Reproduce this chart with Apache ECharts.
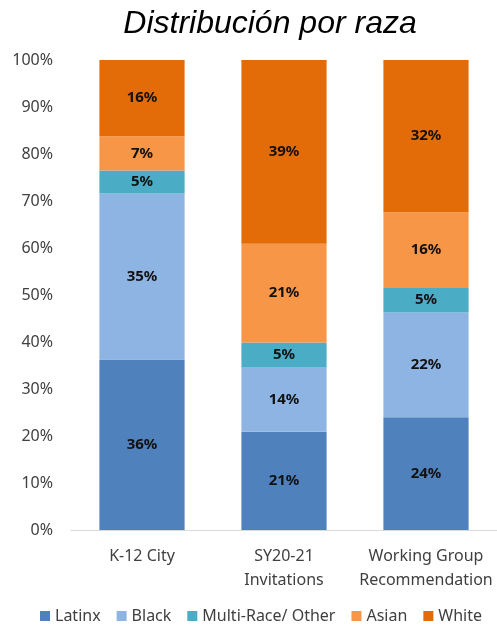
<!DOCTYPE html>
<html>
<head>
<meta charset="utf-8">
<script src="https://cdn.jsdelivr.net/npm/echarts@6/dist/echarts.min.js"></script>
<style>
  html, body { margin: 0; padding: 0; background: #fff; }
  #chart { width: 497px; height: 626px; }
</style>
</head>
<body>
<div id="chart"></div>
<script>
// categorias y valores (porcentaje de cada barra)
var categories = ['K-12 City', 'SY20-21\nInvitations', 'Working Group\nRecommendation']
var latinx = [36.3, 20.9, 24.0]
var black = [35.3, 13.8, 22.3]
var multi = [4.9, 5.2, 5.2]
var asian = [7.3, 21.0, 16.1]
var white = [16.2, 39.1, 32.4]
var yTicks = [0, 10, 20, 30, 40, 50, 60, 70, 80, 90, 100]

var font = 'Noto Sans'

function serie(name, data, color) {
    return {
        name: name,
        type: 'bar',
        stack: 'total',
        barWidth: '60%',
        data: data,
        itemStyle: {color: color},
        label: {
            show: true,
            position: 'inside',
            color: '#111',
            fontWeight: 'bold',
            fontSize: 15,
            fontFamily: font,
            formatter: function (p) {
                return Math.round(p.value) + '%'
            }
        }
    }
}

var myChart = echarts.init(document.getElementById('chart'))
myChart.setOption({
    animation: false,
    title: {
        text: 'Distribución por raza',
        left: 265,
        textAlign: 'center',
        top: 3,
        textStyle: {
            fontFamily: 'Liberation Sans',
            fontStyle: 'italic',
            fontWeight: 'normal',
            fontSize: 32,
            color: '#000'
        }
    },
    legend: {
        top: 608,
        left: 40,
        padding: 0,
        itemWidth: 10,
        itemHeight: 10,
        itemGap: 16,
        icon: 'rect',
        textStyle: {fontFamily: font, fontSize: 16, color: '#404040'}
    },
    grid: {left: 71, right: 0, top: 60, bottom: 96},
    xAxis: {
        type: 'category',
        data: categories,
        axisTick: {show: false},
        axisLine: {lineStyle: {color: '#d9d9d9', width: 1}},
        axisLabel: {
            interval: 0,
            margin: 14,
            lineHeight: 24,
            fontFamily: font,
            fontSize: 16,
            color: '#404040'
        }
    },
    yAxis: {
        type: 'value',
        min: yTicks[0],
        max: yTicks[yTicks.length - 1],
        interval: 10,
        splitLine: {show: false},
        axisLine: {show: false},
        axisTick: {show: false},
        axisLabel: {
            margin: 18,
            fontFamily: font,
            fontSize: 16,
            color: '#404040',
            formatter: '{value}%'
        }
    },
    series: [
        serie('Latinx', latinx, '#4F81BD'),
        serie('Black', black, '#8EB4E3'),
        serie('Multi-Race/ Other', multi, '#4BACC6'),
        serie('Asian', asian, '#F79646'),
        serie('White', white, '#E36C09')
    ]
})
</script>
</body>
</html>
